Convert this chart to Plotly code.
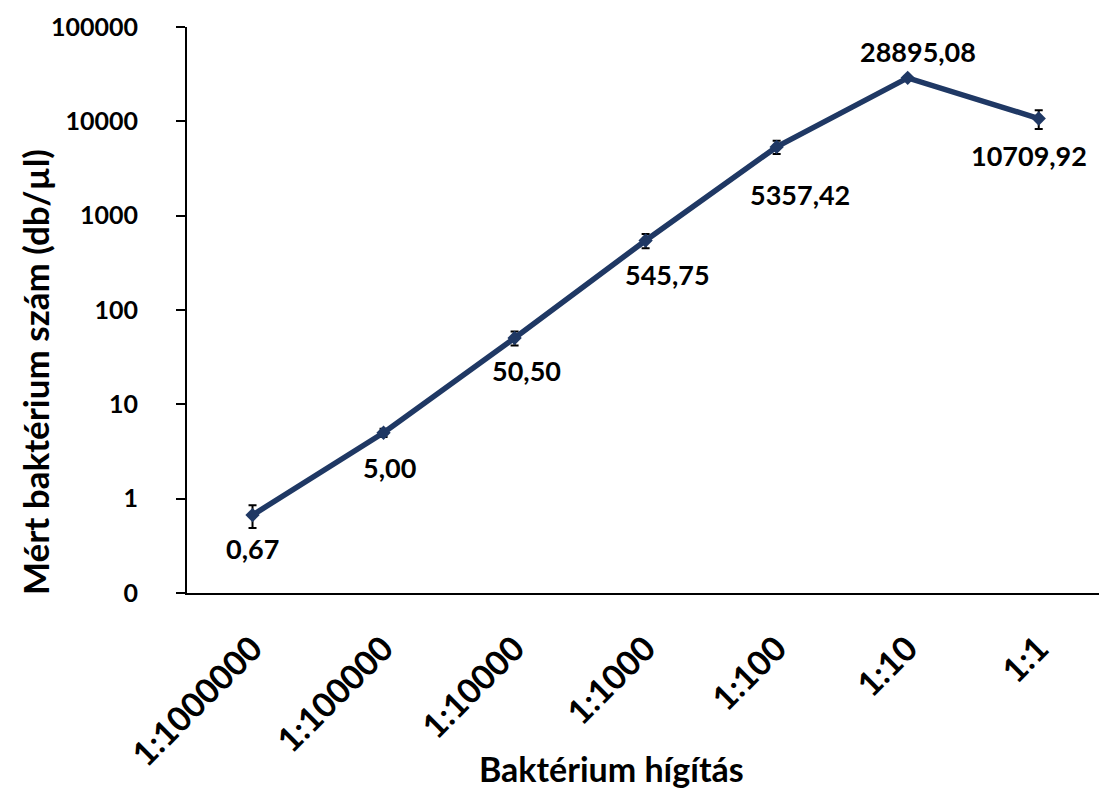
import math
import plotly.graph_objects as go

# Dilution series and measured bacterial counts (cells/µl)
dilutions = ["1:1000000", "1:100000", "1:10000", "1:1000", "1:100", "1:10", "1:1"]
counts = [0.67, 5.00, 50.50, 545.75, 5357.42, 28895.08, 10709.92]
count_err = [0.18, 0.5, 8.5, 95, 850, 1200, 2400]

y_tickvals = [0.1, 1, 10, 100, 1000, 10000, 100000]
y_ticktext = ["0", "1", "10", "100", "1000", "10000", "100000"]

# label offsets in pixels (dx, dy) relative to each point
label_offsets = [(0, -33), (6, -35), (12, -33), (22, -34), (23, -48), (10, 26), (-10, -37)]

FONT = "Lato"
NAVY = "#1F3864"

fig = go.Figure()
fig.add_trace(go.Scatter(
    x=list(range(len(dilutions))),
    y=counts,
    mode="lines+markers",
    line=dict(color=NAVY, width=5.5),
    marker=dict(symbol="diamond", size=11, color=NAVY),
    error_y=dict(type="data", array=count_err, visible=True,
                 color="black", thickness=2, width=4),
    showlegend=False,
    hoverinfo="skip",
))


def fmt(v):
    return f"{v:.2f}".replace(".", ",")


# log axes place annotations in log10 units
for i, (v, (dx, dy)) in enumerate(zip(counts, label_offsets)):
    fig.add_annotation(
        x=i, y=math.log10(v), xref="x", yref="y",
        text=fmt(v), showarrow=False,
        xshift=dx, yshift=dy,
        font=dict(family=FONT, size=27, color="black", weight="bold"),
    )

# axis titles
fig.add_annotation(
    xref="paper", yref="paper", x=0.466, y=-0.31,
    text="Baktérium hígítás", showarrow=False,
    xanchor="center", yanchor="middle",
    font=dict(family=FONT, size=34, color="black", weight="bold"),
)
fig.add_annotation(
    xref="paper", yref="paper", x=-0.1667, y=0.3905,
    text="Mért baktérium szám (db/µl)", showarrow=False, textangle=-90,
    xanchor="center", yanchor="middle",
    font=dict(family=FONT, size=35, color="black", weight="bold"),
)

fig.update_xaxes(
    tickmode="array",
    tickvals=list(range(len(dilutions))),
    ticktext=dilutions,
    range=[-0.5, 6.46],
    tickangle=-45,
    ticks="",
    showline=True, linecolor="black", linewidth=2,
    showgrid=False, zeroline=False,
    ticklabelstandoff=20,
    tickfont=dict(family=FONT, size=34, color="black", weight="bold"),
)
fig.update_yaxes(
    type="log",
    range=[-1, 5],
    tickmode="array",
    tickvals=y_tickvals,
    ticktext=y_ticktext,
    ticks="outside", ticklen=9, tickwidth=2, tickcolor="black",
    showline=True, linecolor="black", linewidth=2,
    showgrid=False, zeroline=False,
    ticklabelstandoff=33,
    tickfont=dict(family=FONT, size=25, color="black", weight="bold"),
)

fig.update_layout(
    width=1099, height=794,
    margin=dict(l=187, r=0, t=27, b=201),
    paper_bgcolor="white",
    plot_bgcolor="white",
)

fig.write_html("out.html")
